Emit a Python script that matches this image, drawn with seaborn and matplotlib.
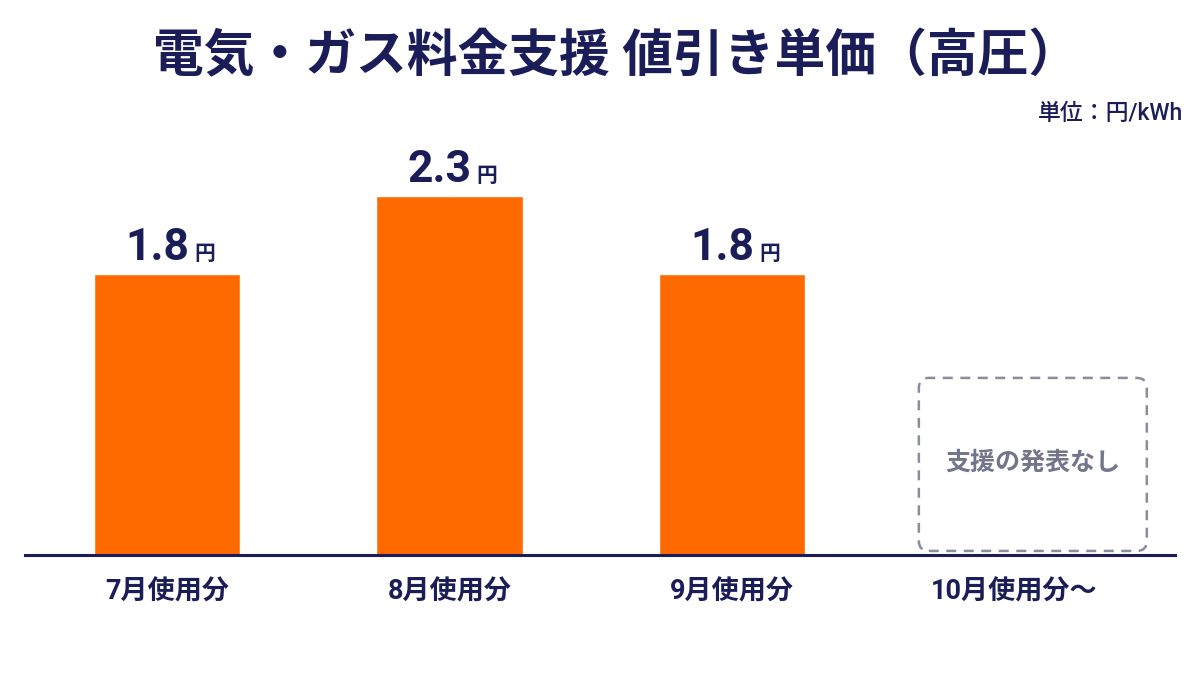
import matplotlib
matplotlib.use("Agg")
import matplotlib.pyplot as plt
from matplotlib.patches import FancyBboxPatch
import numpy as np
import pandas as pd
import seaborn as sns

months = ["7月使用分", "8月使用分", "9月使用分", "10月使用分～"]
discount = [1.8, 2.3, 1.8, np.nan]
no_support_label = "支援の発表なし"
title = "電気・ガス料金支援 値引き単価（高圧）"
unit = "単位：円/kWh"

navy = "#1b1d58"
orange = "#ff6a00"
gray = "#8a8e9c"

sns.set_theme(style="white")
plt.rcParams["font.family"] = ["Roboto", "Noto Sans CJK JP", "DejaVu Sans"]

df = pd.DataFrame({"month": months, "value": discount})

fig = plt.figure(figsize=(12, 6.75), dpi=100)
fig.patch.set_facecolor("white")
ax = fig.add_axes([0.0208, 0.1778, 0.9583, 0.6074])

sns.barplot(data=df, x="month", y="value", order=months, color=orange,
            saturation=1, width=0.52, ax=ax)

ax.set_xlim(-0.503, 3.568)
ax.set_ylim(0, 2.628)
ax.set_xlabel("")
ax.set_ylabel("")
ax.set_yticks([])
for s in ["left", "right", "top"]:
    ax.spines[s].set_visible(False)
ax.spines["bottom"].set_color(navy)
ax.spines["bottom"].set_linewidth(2.2)
ax.tick_params(axis="x", length=0, pad=17, labelsize=19.5, labelcolor=navy)
for lbl in ax.get_xticklabels():
    lbl.set_fontweight("bold")

# value labels: number plus smaller 円
for i, v in enumerate(discount):
    if np.isnan(v):
        continue
    ax.annotate(f"{v:.1f}", xy=(i, v), xytext=(22, 14), textcoords="offset pixels",
                ha="right", va="baseline", fontsize=32, fontweight="bold",
                color=navy)
    ax.annotate("円", xy=(i, v), xytext=(27, 14), textcoords="offset pixels",
                ha="left", va="baseline", fontsize=15, fontweight="bold",
                color=navy)

# dashed placeholder for October
box = FancyBboxPatch((3.065 - 0.4035, 0.026), 0.807, 1.109,
                     boxstyle="round,pad=0,rounding_size=0.035",
                     mutation_aspect=1.81, fill=False, edgecolor=gray,
                     linewidth=1.8, linestyle=(0, (4, 3)))
ax.add_patch(box)
ax.text(3.065, 0.59, no_support_label, ha="center", va="center",
        fontsize=18, fontweight="bold", color="#72768a")

fig.text(0.513, 0.915, title, ha="center", va="center", fontsize=36.5,
         fontweight="bold", color=navy)
fig.text(0.986, 0.832, unit, ha="right", va="center", fontsize=16.5,
         fontweight="medium", color=navy)

fig.savefig("out.png", dpi=100, facecolor="white")
